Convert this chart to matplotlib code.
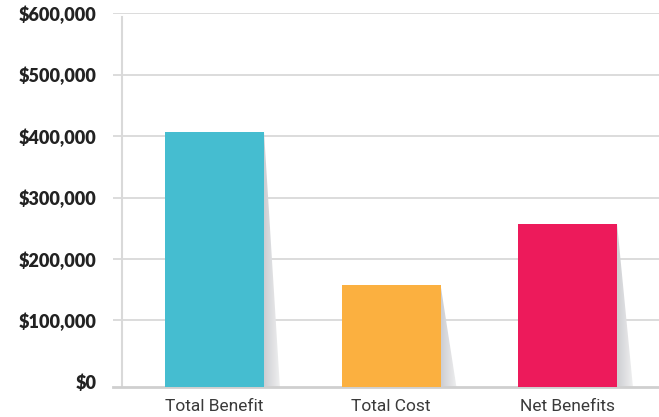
import matplotlib.pyplot as plt
import numpy as np
from matplotlib.patches import Polygon
from matplotlib.colors import LinearSegmentedColormap
from matplotlib.ticker import FuncFormatter


categories = ['Total Benefit', 'Total Cost', 'Net Benefits']
values = [407000, 158000, 257000]
colors = ['#45BDD0', '#FBB040', '#ED1A5B']
yticks = [0, 100000, 200000, 300000, 400000, 500000, 600000]

y_lo = -8500
bar_w = 0.561
shade_w = 0.09

fig = plt.figure(figsize = (6.59, 4.17), dpi = 100)
ax = fig.add_axes([113 / 659, 1 - 387 / 417, 546 / 659, (387 - 13.3) / 417])

x = np.arange(len(categories))
ax.bar(x, [v - y_lo for v in values], bottom = y_lo, width = bar_w, color = colors, zorder = 3)

# soft grey wedge on the right of each bar
shade = LinearSegmentedColormap.from_list('shade', ['#cdced2', '#efeff0'])
grad = np.linspace(0, 1, 64).reshape(1, -1)
for xi, v in zip(x, values):
	xr = xi + bar_w / 2
	poly = Polygon([(xr, v), (xr + shade_w, y_lo), (xr, y_lo)], closed = True,
				   facecolor = 'none', edgecolor = 'none')
	ax.add_patch(poly)
	im = ax.imshow(grad, extent = [xr, xr + shade_w, y_lo, v], cmap = shade,
				   aspect = 'auto', zorder = 2, interpolation = 'bilinear')
	im.set_clip_path(poly)

ax.set_xlim(-0.575, 2.518)
ax.set_ylim(y_lo, 600000)
ax.set_yticks(yticks)
ax.yaxis.set_major_formatter(FuncFormatter(lambda v, p: '${:,.0f}'.format(v)))
ax.grid(axis = 'y', color = '#d9d9d9', linewidth = 1.3, zorder = 0)
ax.get_ygridlines()[0].set_visible(False)
ax.axvline(-0.524, ymin = 0, ymax = (387 - 17) / (387 - 13.3), color = '#d9d9d9', linewidth = 1.5, zorder = 1)

ax.spines['top'].set_visible(False)
ax.spines['right'].set_visible(False)
ax.spines['left'].set_visible(False)
ax.spines['bottom'].set_color('#cfcfcf')
ax.spines['bottom'].set_linewidth(2)

ax.set_xticks(x)
ax.set_xticklabels(categories, fontfamily = 'Roboto', fontsize = 12.5, color = '#3a3a3a')
ax.tick_params(axis = 'x', length = 0, pad = 8.5)
ax.tick_params(axis = 'y', length = 0, pad = 12)
for lab in ax.get_yticklabels():
	lab.set_fontfamily('Lato')
	lab.set_fontweight('heavy')
	lab.set_fontsize(13)
	lab.set_color('#222222')

fig.savefig('out.png', dpi = 100)
